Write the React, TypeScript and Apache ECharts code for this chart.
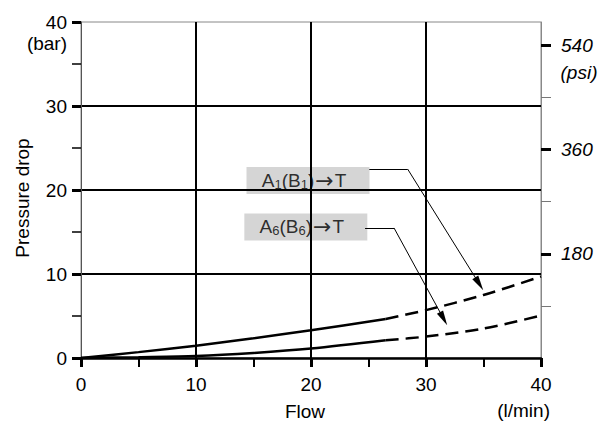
import React, { useEffect, useRef } from "react";
import * as echarts from "echarts";

// ---- data ----
const flow = [0, 5, 10, 15, 20, 26.5, 30, 35, 40];
const a1ToT = [0, 0.7, 1.47, 2.35, 3.3, 4.65, 5.7, 7.5, 9.7];
const a6ToT = [0, 0.1, 0.24, 0.6, 1.12, 2.1, 2.55, 3.5, 5.05];
const dashFrom = 5; // index where the measured (solid) part ends
const barTicks = [0, 10, 20, 30, 40];
const psiLabels = [180, 360, 540];
const psiMinor = [90, 270, 450];
const BAR_TO_PSI = 14.5038;
const BAR_MAX = 40;

// annotation boxes and leaders (data coordinates)
const labelTexts = ["A{s|1}(B{s|1}){a|→}T", "A{s|6}(B{s|6}){a|→}T"];
const labelAt = [
  [19.74, 21.13],
  [19.55, 15.6],
];
const leaderElbow = [
  [[25.07, 22.5], [28.4, 22.5]],
  [[24.7, 15.48], [27.22, 15.48]],
];
const leaderArrow = [
  [[28.4, 22.5], [34.63, 8.83]],
  [[27.22, 15.48], [31.53, 4.67]],
];

const FONT = "'Liberation Sans', Arial, Helvetica, sans-serif";
const FS = 19;

function pairs(xs: number[], ys: number[], from: number, to: number) {
  const out: number[][] = [];
  for (let i = from; i <= to; i++) out.push([xs[i], ys[i]]);
  return out;
}

export default function App() {
  const ref = useRef<HTMLDivElement>(null);

  useEffect(() => {
    document.body.style.margin = "0";
    if (!ref.current) return;
    const chart = echarts.init(ref.current, undefined, { renderer: "svg" });
    const last = flow.length - 1;
    const solidStyle = { color: "#000", width: 2.5 };
    const dashStyle = { color: "#000", width: 2.5, type: [13, 7] as any };

    const option: any = {
      animation: false,
      backgroundColor: "#fff",
      textStyle: { fontFamily: FONT },
      grid: {
        left: 81,
        right: 59,
        top: 22,
        bottom: 63,
        outerBoundsMode: "none",
        containLabel: false,
        show: true,
        borderColor: "#888",
        borderWidth: 1,
        backgroundColor: "transparent",
      },
      xAxis: {
        type: "value",
        min: 0,
        max: 40,
        interval: 10,
        name: "Flow",
        nameLocation: "middle",
        nameGap: 44,
        nameTextStyle: { fontSize: FS, color: "#000", fontFamily: FONT, padding: [0, 12, 0, 0] },
        axisLine: { show: true, onZero: false, lineStyle: { color: "#000", width: 2.5 } },
        axisTick: { show: true, length: 9, lineStyle: { color: "#000", width: 3 } },
        minorTick: { show: true, splitNumber: 2, length: 9, lineStyle: { color: "#000", width: 2 } },
        axisLabel: { fontSize: FS, color: "#000", margin: 17, fontFamily: FONT },
        splitLine: {
          show: true,
          showMinLine: false,
          showMaxLine: false,
          lineStyle: { color: "#000", width: 2 },
        },
      },
      yAxis: [
        {
          type: "value",
          min: 0,
          max: BAR_MAX,
          interval: 10,
          name: "Pressure drop",
          nameLocation: "middle",
          nameGap: 49,
          nameTextStyle: { fontSize: FS, color: "#000", fontFamily: FONT, padding: [0, 16, 0, 0] },
          axisLine: { show: true, lineStyle: { color: "#555", width: 1 } },
          axisTick: { show: true, length: 9, lineStyle: { color: "#000", width: 3 } },
          minorTick: { show: true, splitNumber: 2, length: 9, lineStyle: { color: "#000", width: 1.5 } },
          axisLabel: {
            fontSize: FS,
            color: "#000",
            margin: 14,
            fontFamily: FONT,
            formatter: (v: number) => (barTicks.includes(v) ? String(v) : ""),
          },
          splitLine: {
            show: true,
            showMinLine: false,
            showMaxLine: false,
            lineStyle: { color: "#000", width: 2 },
          },
        },
        {
          type: "value",
          position: "right",
          min: 0,
          max: BAR_MAX * BAR_TO_PSI,
          interval: 90,
          axisLine: { show: true, lineStyle: { color: "#888", width: 1 } },
          axisTick: {
            show: true,
            length: 10,
            customValues: psiLabels,
            lineStyle: { color: "#000", width: 3 },
          },
          axisLabel: {
            show: true,
            customValues: psiLabels,
            fontSize: FS,
            fontStyle: "italic",
            color: "#000",
            margin: 20,
            fontFamily: FONT,
          },
          splitLine: { show: false },
        },
        {
          type: "value",
          position: "right",
          min: 0,
          max: BAR_MAX * BAR_TO_PSI,
          interval: 90,
          axisLine: { show: false },
          axisTick: {
            show: true,
            length: 10,
            customValues: psiMinor,
            lineStyle: { color: "#777", width: 1 },
          },
          axisLabel: { show: false },
          splitLine: { show: false },
        },
      ],
      series: [
        {
          type: "scatter",
          silent: true,
          z: -1,
          symbol: "rect",
          symbolSize: [123, 27],
          itemStyle: { color: "#cacaca" },
          data: labelAt.map((p, i) => ({ value: p, name: labelTexts[i] })),
          label: {
            show: true,
            position: "inside",
            offset: [-4, 0],
            color: "#000",
            fontSize: FS,
            lineHeight: 20,
            fontFamily: FONT,
            formatter: (p: any) => labelTexts[p.dataIndex],
            rich: {
              s: { fontSize: 13, lineHeight: 9, verticalAlign: "bottom", fontFamily: FONT },
              a: { fontSize: 22, lineHeight: 20, padding: [0, 1, 0, 1], fontFamily: "'DejaVu Sans', sans-serif" },
            },
          },
        },
        {
          name: "A1(B1)→T",
          type: "line",
          smooth: 0.3,
          showSymbol: false,
          silent: true,
          lineStyle: solidStyle,
          data: pairs(flow, a1ToT, 0, dashFrom),
        },
        {
          name: "A1(B1)→T (ext)",
          type: "line",
          smooth: 0.3,
          showSymbol: false,
          silent: true,
          lineStyle: dashStyle,
          data: pairs(flow, a1ToT, dashFrom, last),
        },
        {
          name: "A6(B6)→T",
          type: "line",
          smooth: 0.3,
          showSymbol: false,
          silent: true,
          lineStyle: solidStyle,
          data: pairs(flow, a6ToT, 0, dashFrom),
        },
        {
          name: "A6(B6)→T (ext)",
          type: "line",
          smooth: 0.3,
          showSymbol: false,
          silent: true,
          lineStyle: dashStyle,
          data: pairs(flow, a6ToT, dashFrom, last),
        },
        {
          type: "lines",
          coordinateSystem: "cartesian2d",
          silent: true,
          symbol: "none",
          lineStyle: { color: "#000", width: 1, opacity: 1, curveness: 0 },
          data: leaderElbow.map((c) => ({ coords: c })),
        },
        {
          type: "lines",
          coordinateSystem: "cartesian2d",
          silent: true,
          symbol: ["none", "triangle"],
          symbolSize: [0, [7, 15]],
          lineStyle: { color: "#000", width: 1, opacity: 1, curveness: 0 },
          itemStyle: { color: "#000" },
          data: leaderArrow.map((c) => ({ coords: c })),
        },
      ],
    };
    chart.setOption(option);

    const x0 = chart.convertToPixel({ xAxisIndex: 0 }, 0) as number;
    const x40 = chart.convertToPixel({ xAxisIndex: 0 }, 40) as number;
    const y0 = chart.convertToPixel({ yAxisIndex: 0 }, 0) as number;
    const y40 = chart.convertToPixel({ yAxisIndex: 0 }, 40) as number;
    const yPsi = chart.convertToPixel({ yAxisIndex: 1 }, psiLabels[psiLabels.length - 1]) as number;
    const ts = { fontSize: FS, fontFamily: FONT, fill: "#000" };
    chart.setOption({
      graphic: [
        {
          type: "text",
          x: x0 - 14,
          y: y40 + 21,
          style: { ...ts, text: "(bar)", textAlign: "right", textVerticalAlign: "middle" },
        },
        {
          type: "text",
          x: x40 + 38,
          y: yPsi + 27,
          style: { ...ts, fontStyle: "italic", text: "(psi)", textAlign: "center", textVerticalAlign: "middle" },
        },
        {
          type: "text",
          x: x40 + 9,
          y: y0 + 52,
          style: { ...ts, text: "(l/min)", textAlign: "right", textVerticalAlign: "middle" },
        },
      ],
    });

    return () => chart.dispose();
  }, []);

  return <div ref={ref} style={{ width: 600, height: 421 }} />;
}
